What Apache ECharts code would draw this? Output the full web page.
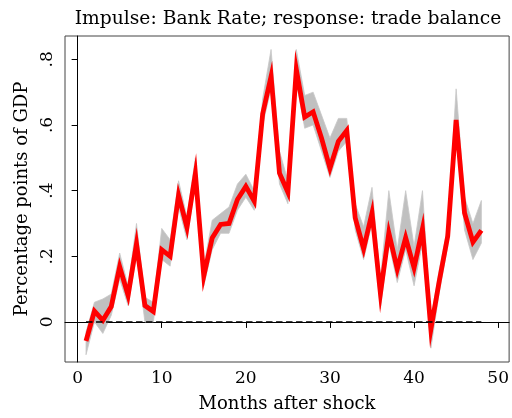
<!DOCTYPE html>
<html>
<head>
<meta charset="utf-8">
<script src="https://cdn.jsdelivr.net/npm/echarts@6/dist/echarts.min.js"></script>
<style>
  html, body { margin: 0; padding: 0; background: #fff; }
  #chart { width: 512px; height: 418px; }
</style>
</head>
<body>
<div id="chart"></div>
<script>
// months after the shock
const months = [1, 2, 3, 4, 5, 6, 7, 8, 9, 10, 11, 12, 13, 14, 15, 16, 17, 18, 19, 20, 21, 22, 23, 24,
  25, 26, 27, 28, 29, 30, 31, 32, 33, 34, 35, 36, 37, 38, 39, 40, 41, 42, 43, 44, 45, 46, 47, 48]

// point estimate of the response
const response = [-0.058, 0.033, 0.005, 0.047, 0.168, 0.081, 0.238, 0.05, 0.032, 0.22, 0.2, 0.386,
  0.288, 0.452, 0.14, 0.256, 0.297, 0.3, 0.373, 0.413, 0.368, 0.634, 0.748, 0.453,
  0.395, 0.769, 0.624, 0.64, 0.56, 0.468, 0.55, 0.583, 0.317, 0.223, 0.332, 0.087,
  0.271, 0.161, 0.257, 0.165, 0.284, -0.022, 0.125, 0.261, 0.615, 0.332, 0.243, 0.279]

// confidence band
const lowerBand = [-0.1, 0.0, -0.035, 0.02, 0.13, 0.05, 0.2, 0.0, 0.0, 0.19, 0.17, 0.35,
  0.25, 0.42, 0.11, 0.22, 0.27, 0.27, 0.34, 0.38, 0.34, 0.6, 0.71, 0.42,
  0.36, 0.73, 0.59, 0.6, 0.52, 0.44, 0.52, 0.55, 0.28, 0.19, 0.3, 0.04,
  0.24, 0.12, 0.22, 0.11, 0.24, -0.08, 0.09, 0.23, 0.57, 0.28, 0.19, 0.24]
const upperBand = [-0.03, 0.06, 0.07, 0.085, 0.21, 0.11, 0.3, 0.075, 0.06, 0.285, 0.25, 0.43,
  0.32, 0.5, 0.17, 0.31, 0.33, 0.35, 0.42, 0.45, 0.4, 0.68, 0.83, 0.52,
  0.43, 0.83, 0.69, 0.7, 0.63, 0.56, 0.62, 0.62, 0.36, 0.29, 0.41, 0.13,
  0.4, 0.22, 0.4, 0.23, 0.4, 0.01, 0.16, 0.29, 0.71, 0.38, 0.3, 0.37]

// zero reference line
const zeroLine = [[1, 0], [48, 0]]

// tick positions and labels
const xTicks = [0, 10, 20, 30, 40, 50]
const yTicks = [0, 0.2, 0.4, 0.6, 0.8]
const yTickLabels = ['0', '.2', '.4', '.6', '.8']

const serif = '"DejaVu Serif", "Liberation Serif", serif'

// whole confidence band as one polygon: lower edge forward, upper edge back
function renderBand(params, api) {
  if (params.dataIndexInside !== 0) return null
  const n = params.dataInsideLength
  const pts = []
  for (let i = 0; i < n; i++) pts.push(api.coord([api.value(0, i), api.value(1, i)]))
  for (let i = n - 1; i >= 0; i--) pts.push(api.coord([api.value(0, i), api.value(2, i)]))
  return {
    type: 'polygon',
    shape: { points: pts },
    style: { fill: '#c0c0c0', stroke: '#c8c8c8', lineWidth: 0.8 },
  }
}

// dashed zero line between the first and last month
function renderZero(params, api) {
  if (params.dataIndexInside !== 0) return null
  const a = api.coord([api.value(0, 0), api.value(1, 0)])
  const b = api.coord([api.value(0, 1), api.value(1, 1)])
  return {
    type: 'line',
    shape: { x1: a[0], y1: a[1], x2: b[0], y2: b[1] },
    style: { stroke: '#000', lineWidth: 1.6, lineDash: [6.5, 3.5] },
  }
}

const chart = echarts.init(document.getElementById('chart'), null, { renderer: 'canvas' })

chart.setOption({
  animation: false,
  title: {
    text: 'Impulse: Bank Rate; response: trade balance',
    left: 283,
    textAlign: 'center',
    top: 5,
    textStyle: { fontFamily: serif, fontSize: 18.7, fontWeight: 'normal', color: '#000' },
  },
  grid: {
    left: 65, right: 2, top: 36, bottom: 55,
    show: true, borderColor: '#444', borderWidth: 1,
  },
  xAxis: {
    type: 'value',
    min: -1.5,
    max: 51.3,
    name: 'Months after shock',
    nameLocation: 'middle',
    nameGap: 33,
    nameTextStyle: { fontFamily: serif, fontSize: 18, color: '#000' },
    axisLine: { show: true, lineStyle: { color: '#000', width: 1 } },
    axisTick: { show: true, length: 6, customValues: xTicks, lineStyle: { color: '#000' } },
    axisLabel: { customValues: xTicks, fontFamily: serif, fontSize: 17, color: '#000', margin: 8 },
    splitLine: { show: false },
  },
  yAxis: {
    type: 'value',
    min: -0.122,
    max: 0.871,
    name: 'Percentage points of GDP',
    nameLocation: 'middle',
    nameRotate: 90,
    nameGap: 31,
    nameTextStyle: { fontFamily: serif, fontSize: 18, color: '#000' },
    axisLine: { show: true, lineStyle: { color: '#000', width: 1 } },
    axisTick: { show: true, length: 6, customValues: yTicks, lineStyle: { color: '#000' } },
    axisLabel: {
      customValues: yTicks,
      rotate: 90,
      fontFamily: serif, fontSize: 17, color: '#000', margin: 9,
      formatter: (v) => yTickLabels[yTicks.findIndex((t) => Math.abs(t - v) < 1e-6)] ?? '',
    },
    splitLine: { show: false },
  },
  series: [
    {
      type: 'custom',
      renderItem: renderBand,
      encode: { x: 0, y: [1, 2] },
      data: months.map((m, i) => [m, lowerBand[i], upperBand[i]]),
      silent: true,
      z: 1,
    },
    {
      type: 'line',
      symbol: 'none',
      lineStyle: { color: '#ff0000', width: 4.8, join: 'miter' },
      data: months.map((m, i) => [m, response[i]]),
      z: 2,
    },
    {
      type: 'custom',
      renderItem: renderZero,
      encode: { x: 0, y: 1 },
      data: zeroLine,
      silent: true,
      z: 3,
    },
  ],
})
</script>
</body>
</html>
